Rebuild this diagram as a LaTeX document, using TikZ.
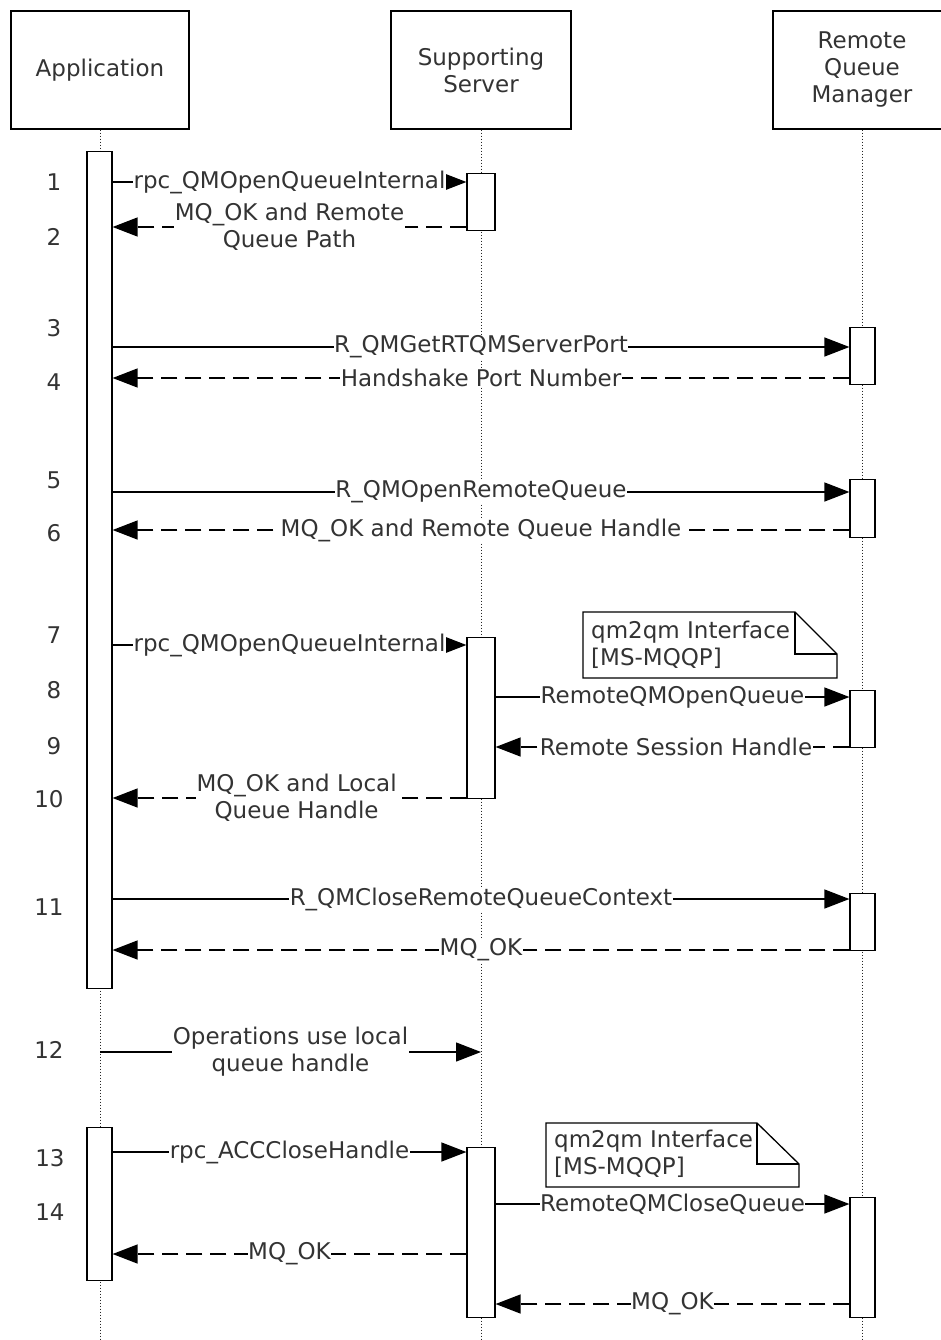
\documentclass[tikz,border=0pt]{standalone}
\usepackage{fontspec}
\setmainfont{DejaVu Sans}
\usetikzlibrary{arrows.meta}
\begin{document}
\begin{tikzpicture}[x=1pt,y=-1pt,
  every node/.style={font=\fontsize{23}{27}\selectfont, text=black!80},
  actor/.style={draw=black, line width=1.3pt, minimum height=118pt, align=center, inner sep=0pt},
  actbar/.style={draw=black, fill=white, line width=1.2pt, inner sep=0pt, anchor=north},
  msg/.style={draw=black, line width=1.3pt, -{Triangle[length=25pt,width=19pt]}},
  ret/.style={msg, dash pattern=on 16pt off 8pt},
  lbl/.style={fill=white, inner sep=0.5pt, align=center},
  life/.style={draw=black!85, line width=1pt, dash pattern=on 1.5pt off 1.5pt},
  num/.style={inner sep=0pt},
  notebox/.style={draw=black, fill=white, line width=1.3pt, line join=miter}
]
\useasboundingbox (0,0) rectangle (940,1340);

% actors
\node[actor, minimum width=178pt] (app) at (100,70) {Application};
\node[actor, minimum width=180pt] (srv) at (481,70) {Supporting\\Server};
\node[actor, minimum width=178pt] (rqm) at (862,70) {Remote\\Queue\\Manager};

% lifelines
\draw[life] (app.south) -- (app.south |- 0,1340);
\draw[life] (srv.south) -- (srv.south |- 0,1340);
\draw[life] (rqm.south) -- (rqm.south |- 0,1340);

% activation bars
\node[actbar, minimum width=25pt, minimum height=837pt] (a1) at (99.5,151) {};
\node[actbar, minimum width=25pt, minimum height=153pt] (a2) at (99.5,1127) {};
\node[actbar, minimum width=28pt, minimum height=57pt] (s1) at (481,173) {};
\node[actbar, minimum width=28pt, minimum height=161pt] (s2) at (481,637) {};
\node[actbar, minimum width=28pt, minimum height=170pt] (s3) at (481,1147) {};
\node[actbar, minimum width=25pt, minimum height=57pt] (r1) at (862.5,327) {};
\node[actbar, minimum width=25pt, minimum height=58pt] (r2) at (862.5,479) {};
\node[actbar, minimum width=25pt, minimum height=57pt] (r3) at (862.5,690) {};
\node[actbar, minimum width=25pt, minimum height=57pt] (r4) at (862.5,893) {};
\node[actbar, minimum width=25pt, minimum height=120pt] (r5) at (862.5,1197) {};

% notes
\draw[notebox] (583,612) -- (795,612) -- (837,654) -- (837,678) -- (583,678) -- cycle;
\draw[notebox, fill=none] (795,612) -- (795,654) -- (837,654);
\node[anchor=west, align=left, inner sep=0pt] (n1) at (591,645) {qm2qm Interface\\{}[MS-MQQP]};
\draw[notebox] (546,1123) -- (757,1123) -- (799,1164) -- (799,1187) -- (546,1187) -- cycle;
\draw[notebox, fill=none] (757,1123) -- (757,1164) -- (799,1164);
\node[anchor=west, align=left, inner sep=0pt] (n2) at (554,1154) {qm2qm Interface\\{}[MS-MQQP]};

% messages
\draw[msg] (a1.east |- 0,182) -- node[lbl] {rpc\_QMOpenQueueInternal} (s1.west |- 0,182);
\draw[ret] (s1.west |- 0,227) -- node[lbl] {MQ\_OK and Remote\\Queue Path} (a1.east |- 0,227);
\draw[msg] (a1.east |- 0,347) -- node[lbl] {R\_QMGetRTQMServerPort} (r1.west |- 0,347);
\draw[ret] (r1.west |- 0,378) -- node[lbl] {Handshake Port Number} (a1.east |- 0,378);
\draw[msg] (a1.east |- 0,492) -- node[lbl] {R\_QMOpenRemoteQueue} (r2.west |- 0,492);
\draw[ret] (r2.west |- 0,530) -- node[lbl] {MQ\_OK and Remote Queue Handle} (a1.east |- 0,530);
\draw[msg] (a1.east |- 0,645) -- node[lbl] {rpc\_QMOpenQueueInternal} (s2.west |- 0,645);
\draw[msg] (s2.east |- 0,697) -- node[lbl] {RemoteQMOpenQueue} (r3.west |- 0,697);
\draw[ret] (r3.west |- 0,747) -- node[lbl, pos=0.49] {Remote Session Handle} (s2.east |- 0,747);
\draw[ret] (s2.west |- 0,798) -- node[lbl, pos=0.48] {MQ\_OK and Local\\Queue Handle} (a1.east |- 0,798);
\draw[msg] (a1.east |- 0,899) -- node[lbl] {R\_QMCloseRemoteQueueContext} (r4.west |- 0,899);
\draw[ret] (r4.west |- 0,950) -- node[lbl] {MQ\_OK} (a1.east |- 0,950);
\draw[msg] (app.south |- 0,1052) -- node[lbl] {Operations use local\\queue handle} (srv.south |- 0,1052);
\draw[msg] (a2.east |- 0,1152) -- node[lbl] {rpc\_ACCCloseHandle} (s3.west |- 0,1152);
\draw[msg] (s3.east |- 0,1204) -- node[lbl] {RemoteQMCloseQueue} (r5.west |- 0,1204);
\draw[ret] (s3.west |- 0,1254) -- node[lbl] {MQ\_OK} (a2.east |- 0,1254);
\draw[ret] (r5.west |- 0,1304) -- node[lbl] {MQ\_OK} (s3.east |- 0,1304);

% step numbers
\node[num] (k1) at (54,182) {1};
\node[num] (k2) at (54,237) {2};
\node[num] (k3) at (54,328) {3};
\node[num] (k4) at (54,382) {4};
\node[num] (k5) at (54,480) {5};
\node[num] (k6) at (54,533) {6};
\node[num] (k7) at (54,635) {7};
\node[num] (k8) at (54,690) {8};
\node[num] (k9) at (54,746) {9};
\node[num] (k10) at (49,799) {10};
\node[num] (k11) at (49,907) {11};
\node[num] (k12) at (49,1050) {12};
\node[num] (k13) at (50,1158) {13};
\node[num] (k14) at (50,1212) {14};
\end{tikzpicture}
\end{document}
